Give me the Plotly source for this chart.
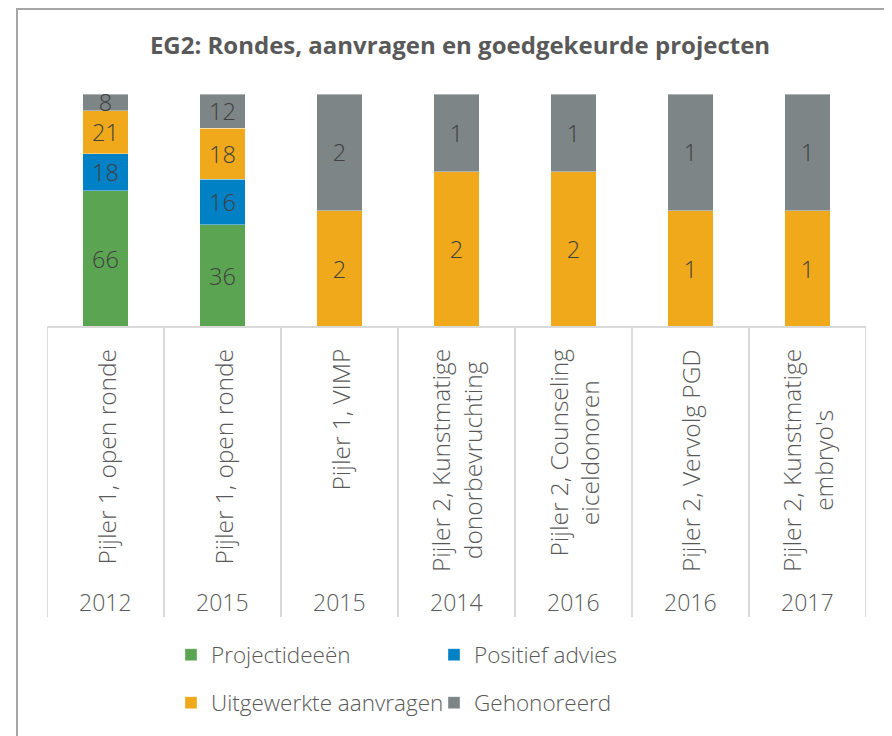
import plotly.graph_objects as go

categories = ["Pijler 1, open ronde", "Pijler 1, open ronde", "Pijler 1, VIMP",
              "Pijler 2, Kunstmatige<br>donorbevruchting", "Pijler 2, Counseling<br>eiceldonoren",
              "Pijler 2, Vervolg PGD", "Pijler 2, Kunstmatige<br>embryo's"]
years = ["2012", "2015", "2015", "2014", "2016", "2016", "2017"]

projectideeen = [66, 36, None, None, None, None, None]
positief_advies = [18, 16, None, None, None, None, None]
uitgewerkte_aanvragen = [21, 18, 2, 2, 2, 1, 1]
gehonoreerd = [8, 12, 2, 1, 1, 1, 1]

series = [
    ("Projectideeën", projectideeen, "#5BA552", "legend"),
    ("Positief advies", positief_advies, "#0080C5", "legend"),
    ("Uitgewerkte aanvragen", uitgewerkte_aanvragen, "#EFA91A", "legend2"),
    ("Gehonoreerd", gehonoreerd, "#7D8586", "legend2"),
]

FONT = "Open Sans"
OFF = 8  # page body margin
W, H = 884, 728
L, T = 47 - OFF, 94 - OFF
R = W - (866 - OFF)
B = H - (327 - OFF)
PW, PH = W - L - R, H - T - B


def px_x(px):
    return (px - OFF - L) / PW


def px_y(py):
    return (H - B - (py - OFF)) / PH


xs = list(range(len(categories)))
fig = go.Figure()
for name, vals, color, lg in series:
    fig.add_trace(go.Bar(
        x=xs, y=vals, name=name,
        marker=dict(color=color, line=dict(color="rgba(255,255,255,0.5)", width=0.75)),
        text=["" if v is None else str(v) for v in vals],
        texttemplate="%{text}",
        textposition="inside", insidetextanchor="middle", textangle=0,
        constraintext="none",
        textfont=dict(family=FONT, size=23.5, color="#404040", weight=300),
        legend=lg, hoverinfo="skip",
    ))

annotations = []
for i, (c, yr) in enumerate(zip(categories, years)):
    annotations.append(dict(
        x=i, xref="x", y=px_y(347), yref="paper", text=c, showarrow=False,
        textangle=-90, xanchor="center", yanchor="top", align="center",
        font=dict(family=FONT, size=24.5, color="#595959", weight=300)))
    annotations.append(dict(
        x=i, xref="x", y=px_y(602), yref="paper", text=yr, showarrow=False,
        xanchor="center", yanchor="middle",
        font=dict(family=FONT, size=23, color="#595959", weight=300)))

shapes = []
for i in range(len(categories) + 1):
    shapes.append(dict(type="line", xref="x", yref="paper", x0=i - 0.5, x1=i - 0.5,
                       y0=0, y1=px_y(617), line=dict(color="#D9D9D9", width=2)))
shapes.append(dict(type="line", xref="x", yref="paper", x0=-0.5, x1=len(categories) - 0.5,
                   y0=0, y1=0, line=dict(color="#D9D9D9", width=2)))
# outer chart frame
shapes.append(dict(type="rect", xref="paper", yref="paper", x0=px_x(17), x1=px_x(905),
                   y0=px_y(760), y1=px_y(9), line=dict(color="#A6A6A6", width=2)))

legend_font = dict(family=FONT, size=22.5, color="#595959", weight=300)
fig.update_layout(
    width=W, height=H,
    margin=dict(l=L, r=R, t=T, b=B),
    paper_bgcolor="white", plot_bgcolor="white",
    barmode="stack", barnorm="percent", bargap=0.607,
    title=dict(text="<b>EG2: Rondes, aanvragen en goedgekeurde projecten</b>",
               x=px_x(460), xref="paper", xanchor="center",
               y=1 - (46 - OFF) / H, yref="container", yanchor="middle",
               font=dict(family=FONT, size=24, color="#595959")),
    xaxis=dict(range=[-0.5, len(categories) - 0.5], showticklabels=False, showgrid=False,
               zeroline=False, showline=False, fixedrange=True),
    yaxis=dict(range=[0, 100], visible=False, fixedrange=True),
    legend=dict(orientation="h", x=px_x(171), y=px_y(655), xanchor="left", yanchor="middle",
                entrywidth=218, itemwidth=30, traceorder="normal",
                font=legend_font, bgcolor="rgba(0,0,0,0)"),
    legend2=dict(orientation="h", x=px_x(171), y=px_y(703), xanchor="left", yanchor="middle",
                 entrywidth=218, itemwidth=30, traceorder="normal",
                 font=legend_font, bgcolor="rgba(0,0,0,0)"),
    annotations=annotations, shapes=shapes, showlegend=True,
)

fig.write_html("out.html")
